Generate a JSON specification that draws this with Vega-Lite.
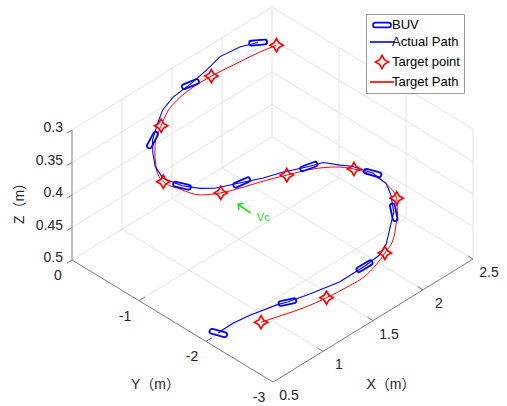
{
  "$schema": "https://vega.github.io/schema/vega-lite/v6.json",
  "width": 507,
  "height": 406,
  "padding": 0,
  "autosize": {"type": "none"},
  "background": "white",
  "config": {
    "view": {"stroke": null},
    "legend": {
      "orient": "none",
      "legendX": 366,
      "legendY": 14,
      "strokeColor": "#9a9a9a",
      "fillColor": "white",
      "padding": 4,
      "labelFont": "Liberation Sans",
      "labelFontSize": 13,
      "labelColor": "#000000",
      "symbolStrokeWidth": 1.6,
      "symbolSize": 144,
      "symbolOffset": 5,
      "rowPadding": 3,
      "labelOffset": 3
    }
  },
  "datasets": {
    "target": [
      {"i":1,"X":2.21,"Y":-0.50,"Z":0.300},{"i":2,"X":2.09,"Y":-0.39,"Z":0.308},{"i":3,"X":1.91,"Y":-0.30,"Z":0.315},
      {"i":4,"X":1.74,"Y":-0.23,"Z":0.320},{"i":5,"X":1.59,"Y":-0.18,"Z":0.326},{"i":6,"X":1.43,"Y":-0.18,"Z":0.331},
      {"i":7,"X":1.30,"Y":-0.22,"Z":0.336},{"i":8,"X":1.19,"Y":-0.30,"Z":0.340},{"i":9,"X":1.05,"Y":-0.42,"Z":0.346},
      {"i":10,"X":0.96,"Y":-0.55,"Z":0.351},{"i":11,"X":0.89,"Y":-0.68,"Z":0.356},{"i":12,"X":0.85,"Y":-0.84,"Z":0.360},
      {"i":13,"X":0.91,"Y":-1.00,"Z":0.367},{"i":14,"X":1.00,"Y":-1.17,"Z":0.374},{"i":15,"X":1.15,"Y":-1.25,"Z":0.380},
      {"i":16,"X":1.36,"Y":-1.30,"Z":0.387},{"i":17,"X":1.54,"Y":-1.33,"Z":0.393},{"i":18,"X":1.73,"Y":-1.37,"Z":0.400},
      {"i":19,"X":1.94,"Y":-1.43,"Z":0.407},{"i":20,"X":2.11,"Y":-1.52,"Z":0.414},{"i":21,"X":2.22,"Y":-1.64,"Z":0.420},
      {"i":22,"X":2.30,"Y":-1.83,"Z":0.427},{"i":23,"X":2.32,"Y":-2.01,"Z":0.433},{"i":24,"X":2.30,"Y":-2.16,"Z":0.440},
      {"i":25,"X":2.19,"Y":-2.34,"Z":0.446},{"i":26,"X":2.04,"Y":-2.51,"Z":0.452},{"i":27,"X":1.90,"Y":-2.58,"Z":0.460},
      {"i":28,"X":1.68,"Y":-2.65,"Z":0.467},{"i":29,"X":1.50,"Y":-2.61,"Z":0.473},{"i":30,"X":1.35,"Y":-2.53,"Z":0.480},
      {"i":31,"X":1.20,"Y":-2.43,"Z":0.487},{"i":32,"X":1.06,"Y":-2.31,"Z":0.493},{"i":33,"X":0.93,"Y":-2.18,"Z":0.500}
    ],
    "targetPts": [
      {"X":2.21,"Y":-0.50,"Z":0.30},{"X":1.74,"Y":-0.23,"Z":0.32},{"X":1.19,"Y":-0.30,"Z":0.34},{"X":0.85,"Y":-0.84,"Z":0.36},
      {"X":1.15,"Y":-1.25,"Z":0.38},{"X":1.73,"Y":-1.37,"Z":0.40},{"X":2.22,"Y":-1.64,"Z":0.42},{"X":2.30,"Y":-2.16,"Z":0.44},
      {"X":1.90,"Y":-2.58,"Z":0.46},{"X":1.35,"Y":-2.53,"Z":0.48},{"X":0.93,"Y":-2.18,"Z":0.50}
    ],
    "actual": [
      {"i":1,"X":2.14,"Y":-0.33,"Z":0.300},{"i":2,"X":2.05,"Y":-0.20,"Z":0.306},{"i":3,"X":1.90,"Y":-0.12,"Z":0.312},
      {"i":4,"X":1.75,"Y":-0.15,"Z":0.316},{"i":5,"X":1.57,"Y":-0.17,"Z":0.320},{"i":6,"X":1.41,"Y":-0.15,"Z":0.326},
      {"i":7,"X":1.28,"Y":-0.19,"Z":0.331},{"i":8,"X":1.17,"Y":-0.28,"Z":0.335},{"i":9,"X":1.03,"Y":-0.41,"Z":0.340},
      {"i":10,"X":0.96,"Y":-0.52,"Z":0.346},{"i":11,"X":0.89,"Y":-0.66,"Z":0.352},{"i":12,"X":0.86,"Y":-0.82,"Z":0.357},
      {"i":13,"X":0.91,"Y":-1.03,"Z":0.360},{"i":14,"X":1.01,"Y":-1.15,"Z":0.366},{"i":15,"X":1.11,"Y":-1.22,"Z":0.371},
      {"i":16,"X":1.34,"Y":-1.28,"Z":0.380},{"i":17,"X":1.52,"Y":-1.33,"Z":0.387},{"i":18,"X":1.70,"Y":-1.35,"Z":0.394},
      {"i":19,"X":1.91,"Y":-1.43,"Z":0.400},{"i":20,"X":2.04,"Y":-1.45,"Z":0.405},{"i":21,"X":2.13,"Y":-1.57,"Z":0.410},
      {"i":22,"X":2.20,"Y":-1.64,"Z":0.414},{"i":23,"X":2.28,"Y":-1.83,"Z":0.420},{"i":24,"X":2.30,"Y":-2.00,"Z":0.427},
      {"i":25,"X":2.26,"Y":-2.13,"Z":0.432},{"i":26,"X":2.17,"Y":-2.31,"Z":0.440},{"i":27,"X":2.04,"Y":-2.44,"Z":0.447},
      {"i":28,"X":1.94,"Y":-2.54,"Z":0.453},{"i":29,"X":1.84,"Y":-2.59,"Z":0.457},{"i":30,"X":1.69,"Y":-2.59,"Z":0.460},
      {"i":31,"X":1.48,"Y":-2.53,"Z":0.468},{"i":32,"X":1.27,"Y":-2.40,"Z":0.475},{"i":33,"X":1.12,"Y":-2.29,"Z":0.480},
      {"i":34,"X":1.06,"Y":-2.22,"Z":0.483},{"i":35,"X":0.88,"Y":-2.09,"Z":0.490},{"i":36,"X":0.76,"Y":-2.02,"Z":0.495},
      {"i":37,"X":0.66,"Y":-2.00,"Z":0.498},{"i":38,"X":0.63,"Y":-1.99,"Z":0.500}
    ],
    "buv": [
      {"X":2.14,"Y":-0.33,"Z":0.30,"heading":-5},{"X":1.57,"Y":-0.17,"Z":0.32,"heading":-22},
      {"X":1.03,"Y":-0.41,"Z":0.34,"heading":-62},{"X":0.91,"Y":-1.03,"Z":0.36,"heading":13},
      {"X":1.34,"Y":-1.28,"Z":0.38,"heading":-24},{"X":1.91,"Y":-1.43,"Z":0.40,"heading":-20},
      {"X":2.28,"Y":-1.83,"Z":0.42,"heading":15},{"X":2.17,"Y":-2.31,"Z":0.44,"heading":78},
      {"X":1.69,"Y":-2.59,"Z":0.46,"heading":-31},{"X":1.12,"Y":-2.29,"Z":0.48,"heading":-12},
      {"X":0.63,"Y":-1.99,"Z":0.50,"heading":15}
    ],
    "grid": [
      {"X1":1,"Y1":0,"Z1":0.5,"X2":1,"Y2":-3,"Z2":0.5},{"X1":1.5,"Y1":0,"Z1":0.5,"X2":1.5,"Y2":-3,"Z2":0.5},
      {"X1":2,"Y1":0,"Z1":0.5,"X2":2,"Y2":-3,"Z2":0.5},{"X1":2.5,"Y1":0,"Z1":0.5,"X2":2.5,"Y2":-3,"Z2":0.5},
      {"X1":0.5,"Y1":0,"Z1":0.5,"X2":2.5,"Y2":0,"Z2":0.5},{"X1":0.5,"Y1":-1,"Z1":0.5,"X2":2.5,"Y2":-1,"Z2":0.5},
      {"X1":0.5,"Y1":-2,"Z1":0.5,"X2":2.5,"Y2":-2,"Z2":0.5},
      {"X1":1,"Y1":0,"Z1":0.3,"X2":1,"Y2":0,"Z2":0.5},{"X1":1.5,"Y1":0,"Z1":0.3,"X2":1.5,"Y2":0,"Z2":0.5},
      {"X1":2,"Y1":0,"Z1":0.3,"X2":2,"Y2":0,"Z2":0.5},{"X1":2.5,"Y1":0,"Z1":0.3,"X2":2.5,"Y2":0,"Z2":0.5},
      {"X1":0.5,"Y1":0,"Z1":0.3,"X2":2.5,"Y2":0,"Z2":0.3},{"X1":0.5,"Y1":0,"Z1":0.35,"X2":2.5,"Y2":0,"Z2":0.35},
      {"X1":0.5,"Y1":0,"Z1":0.4,"X2":2.5,"Y2":0,"Z2":0.4},{"X1":0.5,"Y1":0,"Z1":0.45,"X2":2.5,"Y2":0,"Z2":0.45},
      {"X1":2.5,"Y1":-1,"Z1":0.3,"X2":2.5,"Y2":-1,"Z2":0.5},{"X1":2.5,"Y1":-2,"Z1":0.3,"X2":2.5,"Y2":-2,"Z2":0.5},
      {"X1":2.5,"Y1":-3,"Z1":0.3,"X2":2.5,"Y2":-3,"Z2":0.5},
      {"X1":2.5,"Y1":0,"Z1":0.3,"X2":2.5,"Y2":-3,"Z2":0.3},{"X1":2.5,"Y1":0,"Z1":0.35,"X2":2.5,"Y2":-3,"Z2":0.35},
      {"X1":2.5,"Y1":0,"Z1":0.4,"X2":2.5,"Y2":-3,"Z2":0.4},{"X1":2.5,"Y1":0,"Z1":0.45,"X2":2.5,"Y2":-3,"Z2":0.45}
    ],
    "axes": [
      {"X1":0.5,"Y1":0,"Z1":0.3,"X2":0.5,"Y2":0,"Z2":0.5},
      {"X1":0.5,"Y1":0,"Z1":0.5,"X2":0.5,"Y2":-3,"Z2":0.5},
      {"X1":0.5,"Y1":-3,"Z1":0.5,"X2":2.5,"Y2":-3,"Z2":0.5},
      {"X1":0.5,"Y1":0,"Z1":0.3,"X2":0.45,"Y2":0,"Z2":0.3},{"X1":0.5,"Y1":0,"Z1":0.35,"X2":0.45,"Y2":0,"Z2":0.35},
      {"X1":0.5,"Y1":0,"Z1":0.4,"X2":0.45,"Y2":0,"Z2":0.4},{"X1":0.5,"Y1":0,"Z1":0.45,"X2":0.45,"Y2":0,"Z2":0.45},
      {"X1":0.5,"Y1":0,"Z1":0.5,"X2":0.45,"Y2":0,"Z2":0.5},
      {"X1":0.5,"Y1":-1,"Z1":0.5,"X2":0.56,"Y2":-1,"Z2":0.5},{"X1":0.5,"Y1":-2,"Z1":0.5,"X2":0.56,"Y2":-2,"Z2":0.5},
      {"X1":1,"Y1":-3,"Z1":0.5,"X2":1,"Y2":-2.92,"Z2":0.5},{"X1":1.5,"Y1":-3,"Z1":0.5,"X2":1.5,"Y2":-2.92,"Z2":0.5},
      {"X1":2,"Y1":-3,"Z1":0.5,"X2":2,"Y2":-2.92,"Z2":0.5},{"X1":2.5,"Y1":-3,"Z1":0.5,"X2":2.5,"Y2":-2.92,"Z2":0.5}
    ],
    "zlab": [
      {"X":0.5,"Y":0,"Z":0.3,"label":"0.3"},{"X":0.5,"Y":0,"Z":0.35,"label":"0.35"},{"X":0.5,"Y":0,"Z":0.4,"label":"0.4"},
      {"X":0.5,"Y":0,"Z":0.45,"label":"0.45"},{"X":0.5,"Y":0,"Z":0.5,"label":"0.5"}
    ],
    "ylab": [
      {"X":0.5,"Y":0,"Z":0.5,"label":"0"},{"X":0.5,"Y":-1,"Z":0.5,"label":"-1"},
      {"X":0.5,"Y":-2,"Z":0.5,"label":"-2"},{"X":0.5,"Y":-3,"Z":0.5,"label":"-3"}
    ],
    "xlab": [
      {"X":0.5,"Y":-3,"Z":0.5,"label":"0.5"},{"X":1,"Y":-3,"Z":0.5,"label":"1"},{"X":1.5,"Y":-3,"Z":0.5,"label":"1.5"},
      {"X":2,"Y":-3,"Z":0.5,"label":"2"},{"X":2.5,"Y":-3,"Z":0.5,"label":"2.5"}
    ],
    "current": [
      {"X1":1.24,"Y1":-1.56,"Z1":0.4,"X2":1.25,"Y2":-1.36,"Z2":0.4,"label":"Vc","LX":1.26,"LY":-1.72,"LZ":0.4}
    ]
  },
  "encoding": {
    "x": {"field": "sx", "type": "quantitative", "scale": {"domain": [0, 507], "nice": false, "zero": false}, "axis": null},
    "y": {"field": "sy", "type": "quantitative", "scale": {"domain": [0, 406], "reverse": true, "nice": false, "zero": false}, "axis": null}
  },
  "layer": [
    {
      "data": {"name": "grid"},
      "transform": [
        {"calculate": "72 + (datum.X1 - 0.5) * 100 - datum.Y1 * 67", "as": "sx"},
        {"calculate": "260 - (datum.X1 - 0.5) * 61.5 - datum.Y1 * 40.7 - (0.5 - datum.Z1) * 650", "as": "sy"},
        {"calculate": "72 + (datum.X2 - 0.5) * 100 - datum.Y2 * 67", "as": "sx2"},
        {"calculate": "260 - (datum.X2 - 0.5) * 61.5 - datum.Y2 * 40.7 - (0.5 - datum.Z2) * 650", "as": "sy2"}
      ],
      "mark": {"type": "rule", "stroke": "#e3e3e3", "strokeWidth": 1},
      "encoding": {"x2": {"field": "sx2"}, "y2": {"field": "sy2"}}
    },
    {
      "data": {"name": "axes"},
      "transform": [
        {"calculate": "72 + (datum.X1 - 0.5) * 100 - datum.Y1 * 67", "as": "sx"},
        {"calculate": "260 - (datum.X1 - 0.5) * 61.5 - datum.Y1 * 40.7 - (0.5 - datum.Z1) * 650", "as": "sy"},
        {"calculate": "72 + (datum.X2 - 0.5) * 100 - datum.Y2 * 67", "as": "sx2"},
        {"calculate": "260 - (datum.X2 - 0.5) * 61.5 - datum.Y2 * 40.7 - (0.5 - datum.Z2) * 650", "as": "sy2"}
      ],
      "mark": {"type": "rule", "stroke": "#7d7d7d", "strokeWidth": 1},
      "encoding": {"x2": {"field": "sx2"}, "y2": {"field": "sy2"}}
    },
    {
      "data": {"name": "target"},
      "transform": [
        {"calculate": "72 + (datum.X - 0.5) * 100 - datum.Y * 67", "as": "sx"},
        {"calculate": "260 - (datum.X - 0.5) * 61.5 - datum.Y * 40.7 - (0.5 - datum.Z) * 650", "as": "sy"}
      ],
      "mark": {"type": "line", "strokeWidth": 1, "interpolate": "monotone"},
      "encoding": {
        "order": {"field": "i", "type": "quantitative"},
        "stroke": {"datum": "Target Path", "type": "nominal", "title": null,
          "scale": {"domain": ["BUV", "Actual Path", "Target point", "Target Path"], "range": ["#0000ff", "#0000ff", "#ff0000", "#ff0000"]}}
      }
    },
    {
      "data": {"name": "actual"},
      "transform": [
        {"calculate": "72 + (datum.X - 0.5) * 100 - datum.Y * 67", "as": "sx"},
        {"calculate": "260 - (datum.X - 0.5) * 61.5 - datum.Y * 40.7 - (0.5 - datum.Z) * 650", "as": "sy"}
      ],
      "mark": {"type": "line", "strokeWidth": 1.1},
      "encoding": {
        "order": {"field": "i", "type": "quantitative"},
        "stroke": {"datum": "Actual Path", "type": "nominal", "title": null,
          "scale": {"domain": ["BUV", "Actual Path", "Target point", "Target Path"], "range": ["#0000ff", "#0000ff", "#ff0000", "#ff0000"]}}
      }
    },
    {
      "data": {"name": "targetPts"},
      "transform": [
        {"calculate": "72 + (datum.X - 0.5) * 100 - datum.Y * 67", "as": "sx"},
        {"calculate": "260 - (datum.X - 0.5) * 61.5 - datum.Y * 40.7 - (0.5 - datum.Z) * 650", "as": "sy"}
      ],
      "mark": {"type": "point", "filled": false, "strokeWidth": 1.7, "opacity": 1, "size": 144},
      "encoding": {
        "stroke": {"datum": "Target point", "type": "nominal", "title": null,
          "scale": {"domain": ["BUV", "Actual Path", "Target point", "Target Path"], "range": ["#0000ff", "#0000ff", "#ff0000", "#ff0000"]}},
        "shape": {"datum": "Target point", "type": "nominal", "title": null,
          "scale": {"domain": ["BUV", "Actual Path", "Target point", "Target Path"],
            "range": ["M -1.1 -0.4 L 1.1 -0.4 A 0.4 0.4 0 0 1 1.1 0.4 L -1.1 0.4 A 0.4 0.4 0 0 1 -1.1 -0.4 Z", "M -2 0 L 2 0", "M 0 -1.1 L 0.4 -0.4 L 1.1 0 L 0.4 0.4 L 0 1.1 L -0.4 0.4 L -1.1 0 L -0.4 -0.4 Z", "M -2 0 L 2 0"]}}
      }
    },
    {
      "data": {"name": "buv"},
      "transform": [
        {"calculate": "72 + (datum.X - 0.5) * 100 - datum.Y * 67", "as": "sx"},
        {"calculate": "260 - (datum.X - 0.5) * 61.5 - datum.Y * 40.7 - (0.5 - datum.Z) * 650", "as": "sy"}
      ],
      "mark": {"type": "point", "filled": false, "strokeWidth": 1.8, "opacity": 1, "size": 144},
      "encoding": {
        "angle": {"field": "heading", "type": "quantitative", "scale": null},
        "stroke": {"datum": "BUV", "type": "nominal", "title": null,
          "scale": {"domain": ["BUV", "Actual Path", "Target point", "Target Path"], "range": ["#0000ff", "#0000ff", "#ff0000", "#ff0000"]}},
        "shape": {"datum": "BUV", "type": "nominal", "title": null,
          "scale": {"domain": ["BUV", "Actual Path", "Target point", "Target Path"],
            "range": ["M -1.1 -0.4 L 1.1 -0.4 A 0.4 0.4 0 0 1 1.1 0.4 L -1.1 0.4 A 0.4 0.4 0 0 1 -1.1 -0.4 Z", "M -2 0 L 2 0", "M 0 -1.1 L 0.4 -0.4 L 1.1 0 L 0.4 0.4 L 0 1.1 L -0.4 0.4 L -1.1 0 L -0.4 -0.4 Z", "M -2 0 L 2 0"]}}
      }
    },
    {
      "data": {"name": "current"},
      "transform": [
        {"calculate": "72 + (datum.X1 - 0.5) * 100 - datum.Y1 * 67", "as": "sx"},
        {"calculate": "260 - (datum.X1 - 0.5) * 61.5 - datum.Y1 * 40.7 - (0.5 - datum.Z1) * 650", "as": "sy"},
        {"calculate": "72 + (datum.X2 - 0.5) * 100 - datum.Y2 * 67", "as": "sx2"},
        {"calculate": "260 - (datum.X2 - 0.5) * 61.5 - datum.Y2 * 40.7 - (0.5 - datum.Z2) * 650", "as": "sy2"}
      ],
      "mark": {"type": "rule", "stroke": "#22dd22", "strokeWidth": 1.6},
      "encoding": {"x2": {"field": "sx2"}, "y2": {"field": "sy2"}}
    },
    {
      "data": {"name": "current"},
      "transform": [
        {"calculate": "72 + (datum.X2 - 0.5) * 100 - datum.Y2 * 67", "as": "sx"},
        {"calculate": "260 - (datum.X2 - 0.5) * 61.5 - datum.Y2 * 40.7 - (0.5 - datum.Z2) * 650", "as": "sy"}
      ],
      "mark": {"type": "point", "shape": "M -1 1 L 0 0 L 1 1", "filled": false, "stroke": "#22dd22", "strokeWidth": 1.6, "size": 64, "angle": 307, "opacity": 1},
      "encoding": {}
    },
    {
      "data": {"name": "current"},
      "transform": [
        {"calculate": "72 + (datum.LX - 0.5) * 100 - datum.LY * 67", "as": "sx"},
        {"calculate": "260 - (datum.LX - 0.5) * 61.5 - datum.LY * 40.7 - (0.5 - datum.LZ) * 650", "as": "sy"}
      ],
      "mark": {"type": "text", "color": "#22dd22", "font": "Liberation Sans", "fontSize": 11, "align": "center", "baseline": "middle"},
      "encoding": {"text": {"field": "label"}}
    },
    {
      "data": {"name": "zlab"},
      "transform": [
        {"calculate": "72 + (datum.X - 0.5) * 100 - datum.Y * 67", "as": "sx"},
        {"calculate": "260 - (datum.X - 0.5) * 61.5 - datum.Y * 40.7 - (0.5 - datum.Z) * 650", "as": "sy"}
      ],
      "mark": {"type": "text", "color": "#262626", "font": "Liberation Sans", "fontSize": 14, "align": "right", "baseline": "middle", "dx": -9, "dy": -2},
      "encoding": {"text": {"field": "label"}}
    },
    {
      "data": {"name": "ylab"},
      "transform": [
        {"calculate": "72 + (datum.X - 0.5) * 100 - datum.Y * 67", "as": "sx"},
        {"calculate": "260 - (datum.X - 0.5) * 61.5 - datum.Y * 40.7 - (0.5 - datum.Z) * 650", "as": "sy"}
      ],
      "mark": {"type": "text", "color": "#262626", "font": "Liberation Sans", "fontSize": 14, "align": "center", "baseline": "middle", "dx": -14, "dy": 16},
      "encoding": {"text": {"field": "label"}}
    },
    {
      "data": {"name": "xlab"},
      "transform": [
        {"calculate": "72 + (datum.X - 0.5) * 100 - datum.Y * 67", "as": "sx"},
        {"calculate": "260 - (datum.X - 0.5) * 61.5 - datum.Y * 40.7 - (0.5 - datum.Z) * 650", "as": "sy"}
      ],
      "mark": {"type": "text", "color": "#262626", "font": "Liberation Sans", "fontSize": 14, "align": "center", "baseline": "middle", "dx": 16, "dy": 14},
      "encoding": {"text": {"field": "label"}}
    },
    {
      "data": {"values": [{"X": 0.5, "Y": 0, "Z": 0.4, "label": "Z（m）"}]},
      "transform": [
        {"calculate": "72 + (datum.X - 0.5) * 100 - datum.Y * 67", "as": "sx"},
        {"calculate": "260 - (datum.X - 0.5) * 61.5 - datum.Y * 40.7 - (0.5 - datum.Z) * 650", "as": "sy"}
      ],
      "mark": {"type": "text", "color": "#262626", "font": "Liberation Sans, Noto Sans CJK SC", "fontSize": 14, "align": "center", "baseline": "middle", "angle": 270, "dx": -5, "dy": -52},
      "encoding": {"text": {"field": "label"}}
    },
    {
      "data": {"values": [{"X": 0.5, "Y": -1.5, "Z": 0.5, "label": "Y（m）"}]},
      "transform": [
        {"calculate": "72 + (datum.X - 0.5) * 100 - datum.Y * 67", "as": "sx"},
        {"calculate": "260 - (datum.X - 0.5) * 61.5 - datum.Y * 40.7 - (0.5 - datum.Z) * 650", "as": "sy"}
      ],
      "mark": {"type": "text", "color": "#262626", "font": "Liberation Sans, Noto Sans CJK SC", "fontSize": 14, "align": "center", "baseline": "middle", "dx": -17, "dy": 64},
      "encoding": {"text": {"field": "label"}}
    },
    {
      "data": {"values": [{"X": 1.5, "Y": -3, "Z": 0.5, "label": "X（m）"}]},
      "transform": [
        {"calculate": "72 + (datum.X - 0.5) * 100 - datum.Y * 67", "as": "sx"},
        {"calculate": "260 - (datum.X - 0.5) * 61.5 - datum.Y * 40.7 - (0.5 - datum.Z) * 650", "as": "sy"}
      ],
      "mark": {"type": "text", "color": "#262626", "font": "Liberation Sans, Noto Sans CJK SC", "fontSize": 14, "align": "center", "baseline": "middle", "dx": 18, "dy": 64},
      "encoding": {"text": {"field": "label"}}
    }
  ]
}
